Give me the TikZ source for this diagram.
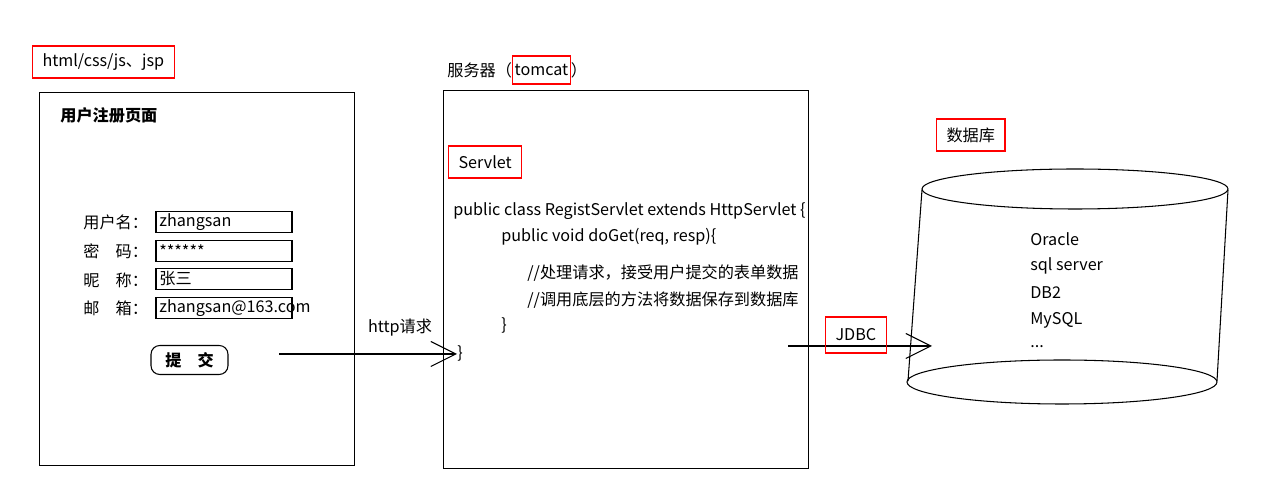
\documentclass[tikz,border=0pt]{standalone}
\usepackage{fontspec}
\setmainfont{Noto Sans CJK SC}
\usetikzlibrary{arrows.meta, positioning}
\tikzset{
  tag/.style={draw=red, line width=0.6pt, inner xsep=0.2cm, minimum height=0.64cm},
  frame/.style={draw, line width=0.6pt, inner sep=0pt},
  field/.style={draw, line width=0.6pt, minimum width=2.72cm, minimum height=0.42cm, inner sep=0pt},
  txt/.style={anchor=west, inner sep=0pt},
  btn/.style={draw, line width=0.6pt, rounded corners=5pt, minimum width=1.54cm, minimum height=0.58cm, font=\fontsize{9.2pt}{11pt}\selectfont\bfseries},
  arr/.style={-{Straight Barb[length=0.5cm, width=0.5cm]}, line width=0.6pt},
}
\begin{document}
\begin{tikzpicture}[x=0.02cm, y=0.02cm, font=\fontsize{9.2pt}{11pt}\selectfont]
  \useasboundingbox (0,0) rectangle (1279,-499);
  % left page
  \node[tag, anchor=west] (h) at (32,-62) {html/css/js、jsp};
  \node[frame, minimum width=6.32cm, minimum height=7.48cm] (pg) at (197,-279) {};
  \node[txt, font=\fontsize{9.2pt}{11pt}\selectfont\bfseries] (ti) at (60,-115) {用户注册页面};
  \node[txt] (l1) at (83,-222) {用户名：};
  \node[txt] (l2) at (83,-251) {密　码：};
  \node[txt] (l3) at (83,-280) {昵　称：};
  \node[txt] (l4) at (83,-308) {邮　箱：};
  \node[field] (u1) at (224,-222) {};
  \node[field] (u2) at (224,-251) {};
  \node[field] (u3) at (224,-279) {};
  \node[field] (u4) at (224,-308) {};
  \node[txt] (v1) at ([xshift=2pt]u1.west) {zhangsan};
  \node[txt] (v2) at ([xshift=2pt]u2.west) {******};
  \node[txt] (v3) at ([xshift=2pt]u3.west) {张三};
  \node[txt] (v4) at ([xshift=2pt]u4.west) {zhangsan@163.com};
  \node[btn] (b) at (189.5,-360) {提　交};
  % server
  \node[txt] (s1) at (447,-70) {服务器（};
  \node[tag, right=0pt of s1, inner xsep=1pt, minimum height=0.56cm] (tc) {tomcat};
  \node[right=0pt of tc, inner sep=0pt] (s2) {）};
  \node[frame, minimum width=7.32cm, minimum height=7.58cm] (sv) at (626,-279.5) {};
  \node[tag, anchor=west] (sl) at (448,-162) {Servlet};
  \node[txt] (c1) at (453,-211) {public class RegistServlet extends HttpServlet \{};
  \node[txt] (c2) at (501,-237) {public void doGet(req, resp)\{};
  \node[txt] (c3) at (527,-273) {//处理请求，接受用户提交的表单数据};
  \node[txt] (c4) at (527,-300) {//调用底层的方法将数据保存到数据库};
  \node[txt] (c5) at (501,-325) {\}};
  \node[txt] (cb) at (457,-353) {\}};
  \coordinate (hs) at (279,-354);
  \draw[arr] (hs) -- (cb.west |- hs);
  \node (hr) at (400,-328) {http请求};
  % database
  \node[tag, anchor=west] (db) at (936,-135) {数据库};
  \draw[line width=0.6pt] (1075,-189) ellipse [x radius=153, y radius=20];
  \draw[line width=0.6pt] (1062,-382) ellipse [x radius=155, y radius=22];
  \draw[line width=0.6pt] (922,-190) -- (908,-381) (1228,-190) -- (1217,-381);
  \node[txt] (d1) at (1030,-239) {Oracle};
  \node[txt] (d2) at (1030,-266) {sql server};
  \node[txt] (d3) at (1030,-293) {DB2};
  \node[txt] (d4) at (1030,-320) {MySQL};
  \node[txt] (d5) at (1030,-347) {...};
  \coordinate (js) at (788,-346);
  \coordinate (je) at (932,-346);
  \draw[arr] (js) -- (je);
  \node[tag, anchor=west, minimum height=0.72cm] (jd) at (825,-335) {JDBC};
\end{tikzpicture}
\end{document}
